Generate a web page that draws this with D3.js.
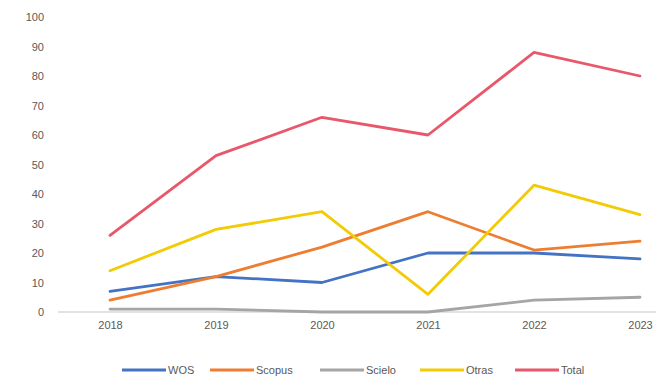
<!DOCTYPE html>
<html>
<head>
<meta charset="utf-8">
<script src="https://cdn.jsdelivr.net/npm/d3@7"></script>
<style>
  body { margin: 0; background: #fff; }
  svg { display: block; font-family: "Liberation Sans", Arial, sans-serif; }
  .line { fill: none; stroke-linejoin: round; stroke-linecap: round; }
</style>
</head>
<body>
<svg width="656" height="379"></svg>
<script>
// chart data
var years = ["2018", "2019", "2020", "2021", "2022", "2023"];
var wos = [7, 12, 10, 20, 20, 18];
var scopus = [4, 12, 22, 34, 21, 24];
var scielo = [1, 1, 0, 0, 4, 5];
var otras = [14, 28, 34, 6, 43, 33];
var total = [26, 53, 66, 60, 88, 80];
var yTicks = [0, 10, 20, 30, 40, 50, 60, 70, 80, 90, 100];

var series = [
  { name: "WOS", values: wos, color: "#4472C4" },
  { name: "Scopus", values: scopus, color: "#ED7D31" },
  { name: "Scielo", values: scielo, color: "#A5A5A5" },
  { name: "Otras", values: otras, color: "#F2CB05" },
  { name: "Total", values: total, color: "#E8576A" }
];

var svg = d3.select("svg");

// scales
var x = d3.scalePoint().domain(years).range([110, 640]);
var y = d3.scaleLinear().domain([0, 100]).range([312, 17]);

// y axis labels only
svg.append("g")
  .attr("transform", "translate(44,0)")
  .call(d3.axisLeft(y).tickValues(yTicks).tickSize(0).tickPadding(0))
  .call(function(g) { g.select(".domain").remove(); })
  .selectAll("text")
  .attr("fill", "#595959")
  .style("font-size", "11px")
  .style("font-family", "Liberation Sans, Arial, sans-serif");

// x axis labels
svg.append("g")
  .attr("transform", "translate(0,318)")
  .call(d3.axisBottom(x).tickSize(0).tickPadding(3))
  .call(function(g) { g.select(".domain").remove(); })
  .selectAll("text")
  .attr("fill", "#595959")
  .style("font-size", "11px")
  .style("font-family", "Liberation Sans, Arial, sans-serif");

// baseline at zero
svg.append("line")
  .attr("x1", 58).attr("x2", 656)
  .attr("y1", y(0)).attr("y2", y(0))
  .attr("stroke", "#D9D9D9")
  .attr("stroke-width", 1.5);

var line = d3.line()
  .x(function(d, i) { return x(years[i]); })
  .y(function(d) { return y(d); });

// lines
svg.selectAll(".line")
  .data(series)
  .enter().append("path")
  .attr("class", "line")
  .attr("stroke", function(d) { return d.color; })
  .attr("stroke-width", 2.8)
  .attr("d", function(d) { return line(d.values); });

// legend
var legendX = [122, 210, 320, 420, 515];
var legend = svg.append("g").attr("transform", "translate(0,370)");
var item = legend.selectAll("g")
  .data(series)
  .enter().append("g")
  .attr("transform", function(d, i) { return "translate(" + legendX[i] + ",0)"; });

item.append("line")
  .attr("x1", 0).attr("x2", 44)
  .attr("stroke", function(d) { return d.color; })
  .attr("stroke-width", 2.8);

item.append("text")
  .attr("x", 46)
  .attr("dy", "0.35em")
  .attr("fill", "#595959")
  .style("font-size", "11px")
  .text(function(d) { return d.name; });
</script>
</body>
</html>
